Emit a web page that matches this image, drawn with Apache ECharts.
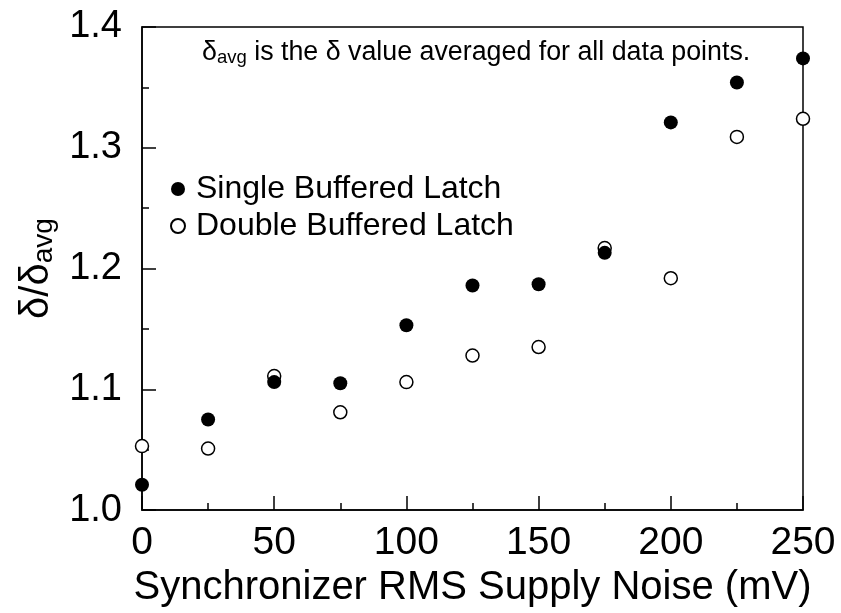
<!DOCTYPE html>
<html>
<head>
<meta charset="utf-8">
<script src="https://cdn.jsdelivr.net/npm/echarts@6/dist/echarts.min.js"></script>
<style>
html,body{margin:0;padding:0;background:#fff;}
#chart{width:841px;height:613px;}
</style>
</head>
<body>
<div id="chart"></div>
<script>
var noise = [0, 25, 50, 75, 100, 125, 150, 175, 200, 225, 250];
var singleBuffered = [1.021, 1.075, 1.106, 1.105, 1.153, 1.186, 1.187, 1.213, 1.321, 1.354, 1.374];
var doubleBuffered = [1.053, 1.051, 1.111, 1.081, 1.106, 1.128, 1.135, 1.217, 1.192, 1.309, 1.324];
var seriesNames = ['Single Buffered Latch', 'Double Buffered Latch'];
var xTitle = 'Synchronizer RMS Supply Noise (mV)';

function pairs(xs, ys) { return xs.map(function (x, i) { return [x, ys[i]]; }); }

var FONT = '"Liberation Sans", Arial, Helvetica, sans-serif';
var chart = echarts.init(document.getElementById('chart'), null, {renderer: 'canvas'});
chart.setOption({
  backgroundColor: '#fff',
  animation: false,
  textStyle: {fontFamily: FONT, color: '#000'},
  title: {
    left: 197, top: 33,
    text: '{m|δ}{s|avg}{m| is the δ value averaged for all data points.}',
    textStyle: {
      fontWeight: 'normal',
      rich: {
        m: {fontFamily: FONT, fontSize: 26.8, fontWeight: 'normal', color: '#000', lineHeight: 29},
        s: {fontFamily: FONT, fontSize: 18.5, fontWeight: 'normal', color: '#000', lineHeight: 14, verticalAlign: 'bottom'}
      }
    }
  },
  legend: {
    orient: 'vertical', left: 170, top: 173, padding: 0,
    itemWidth: 26, itemHeight: 14, itemGap: 5, icon: 'circle',
    textStyle: {fontFamily: FONT, fontSize: 32, color: '#000', lineHeight: 32, padding: [0,0,0,0]},
    data: seriesNames
  },
  grid: {left: 142, right: 38, top: 27, bottom: 97, show: true, borderColor: '#000', borderWidth: 1.5, containLabel: false},
  xAxis: {
    type: 'value', min: 0, max: 250, interval: 50,
    name: xTitle, nameLocation: 'middle', nameGap: 44,
    nameTextStyle: {fontFamily: FONT, fontSize: 40, color: '#000'},
    axisLine: {show: true, lineStyle: {color: '#000', width: 1.5}},
    axisTick: {show: true, inside: true, length: 14, lineStyle: {color: '#000', width: 1.5}},
    minorTick: {show: true, splitNumber: 2, length: 7, lineStyle: {color: '#000', width: 1.5}},
    splitLine: {show: false},
    axisLabel: {fontFamily: FONT, fontSize: 39, color: '#000', margin: 14}
  },
  yAxis: {
    type: 'value', min: 1.0, max: 1.4, interval: 0.1,
    name: '{m|δ/δ}{s|avg}', nameLocation: 'middle', nameGap: 80, nameRotate: 90,
    nameTextStyle: {
      rich: {
        m: {fontFamily: FONT, fontSize: 40, color: '#000', lineHeight: 42},
        s: {fontFamily: FONT, fontSize: 28, color: '#000', lineHeight: 16, verticalAlign: 'bottom'}
      }
    },
    axisLine: {show: true, lineStyle: {color: '#000', width: 1.5}},
    axisTick: {show: true, inside: true, length: 14, lineStyle: {color: '#000', width: 1.5}},
    minorTick: {show: true, splitNumber: 2, length: 7, lineStyle: {color: '#000', width: 1.5}},
    splitLine: {show: false},
    axisLabel: {fontFamily: FONT, fontSize: 38, color: '#000', margin: 20,
      formatter: function (v) { return v.toFixed(1); }}
  },
  series: [
    {
      name: seriesNames[0], type: 'scatter', symbol: 'circle', symbolSize: 14,
      itemStyle: {color: '#000', borderColor: '#000', borderWidth: 0, opacity: 1},
      data: pairs(noise, singleBuffered), z: 3
    },
    {
      name: seriesNames[1], type: 'scatter', symbol: 'circle', symbolSize: 13,
      itemStyle: {color: '#fff', borderColor: '#000', borderWidth: 1.5, opacity: 1},
      data: pairs(noise, doubleBuffered), z: 2
    }
  ]
});
</script>
</body>
</html>
